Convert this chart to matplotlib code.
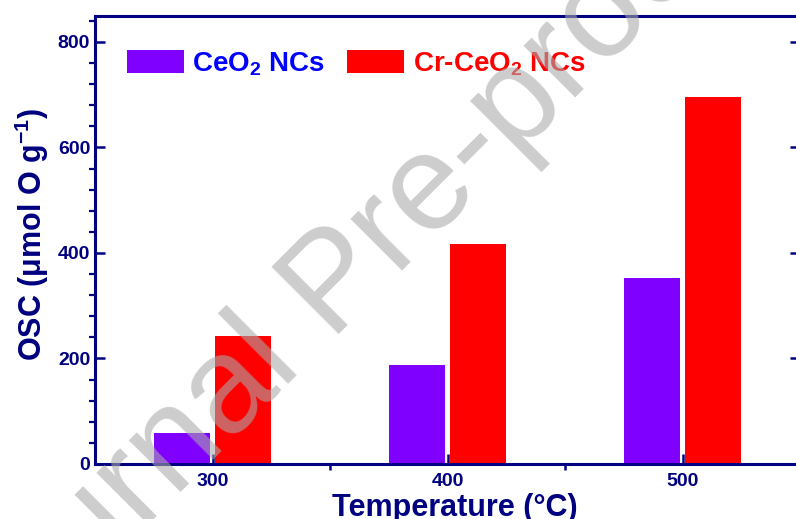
import matplotlib
matplotlib.use('Agg')
import matplotlib.pyplot as plt
from matplotlib.ticker import MultipleLocator, FixedLocator
import numpy as np

# Oxygen storage capacity by temperature
temperatures = [300, 400, 500]
ceo2_osc = [58, 188, 353]
cr_ceo2_osc = [243, 417, 695]
series_labels = ['CeO$_\\mathbf{2}$ NCs', 'Cr-CeO$_\\mathbf{2}$ NCs']
series_colors = ['#8000FF', '#FF0000']
legend_text_colors = ['#0000FF', '#FF0000']
y_ticks = [0, 200, 400, 600, 800]
x_minor_ticks = [350, 450]
x_label = 'Temperature (°C)'
y_label = 'OSC (μmol O g$^{\\mathbf{-1}}$)'
watermark = 'Journal Pre-proof'

plt.rcParams['font.family'] = ['Liberation Sans', 'DejaVu Sans']
plt.rcParams['font.weight'] = 'bold'
plt.rcParams['mathtext.fontset'] = 'custom'
plt.rcParams['mathtext.rm'] = 'Liberation Sans:bold'
plt.rcParams['mathtext.bf'] = 'Liberation Sans:bold'
plt.rcParams['mathtext.it'] = 'Liberation Sans:bold:italic'

navy = '#000080'
W, H = 796, 519
fig = plt.figure(figsize=(W / 100, H / 100), dpi=100)
ax = fig.add_axes([95 / W, (H - 464) / H, 705 / W, (464 - 15.6) / H])

x = np.array(temperatures, dtype=float)
bar_w = 24
off = 13
b1 = ax.bar(x - off, ceo2_osc, bar_w, color=series_colors[0], zorder=2)
b2 = ax.bar(x + off, cr_ceo2_osc, bar_w, color=series_colors[1], zorder=2)

ax.set_xlim(250, 550)
ax.set_ylim(0, 850)
ax.set_xticks(temperatures)
ax.xaxis.set_minor_locator(FixedLocator(x_minor_ticks))
ax.set_yticks(y_ticks)
ax.yaxis.set_minor_locator(MultipleLocator(40))

for s in ax.spines.values():
    s.set_color(navy)
    s.set_linewidth(2.2)
    s.set_zorder(3)

ax.tick_params(axis='x', which='major', direction='in', length=7, width=1.8,
               color=navy, labelcolor=navy, labelsize=14, pad=6.5, top=False)
ax.tick_params(axis='x', which='minor', direction='out', length=4.5, width=1.8,
               color=navy, top=False)
ax.tick_params(axis='y', which='major', direction='in', length=7, width=1.8,
               color=navy, labelcolor=navy, labelsize=14, pad=3.5,
               left=True, right=True)
ax.tick_params(axis='y', which='minor', direction='out', length=4.5, width=1.6,
               color=navy, left=True, right=True)

ax.set_xlabel(x_label, fontsize=22, color=navy, fontweight='bold', va='baseline')
ax.xaxis.set_label_coords(0.511, (464 - 516) / 448.4)
ax.set_ylabel(y_label, fontsize=22, color=navy, fontweight='bold', va='baseline')
ax.yaxis.set_label_coords(-0.075, (464 - 234.5) / 448.4)

leg = ax.legend([b1, b2], series_labels, loc='center left',
                bbox_to_anchor=(32 / 705, (464 - 64) / 448.4), ncol=2,
                frameon=False, prop={'size': 20, 'weight': 'bold'},
                handlelength=2.05, handleheight=0.87, handletextpad=0.3,
                columnspacing=0.8, borderpad=0, borderaxespad=0)
for t, c in zip(leg.get_texts(), legend_text_colors):
    t.set_color(c)

fig.text(361 / W, 1 - 312 / H, watermark, rotation=45, rotation_mode='anchor',
         ha='center', va='baseline', fontsize=99, fontweight='normal',
         color='#aaaaaa', alpha=0.59, zorder=10)

fig.savefig('out.png', dpi=100)
